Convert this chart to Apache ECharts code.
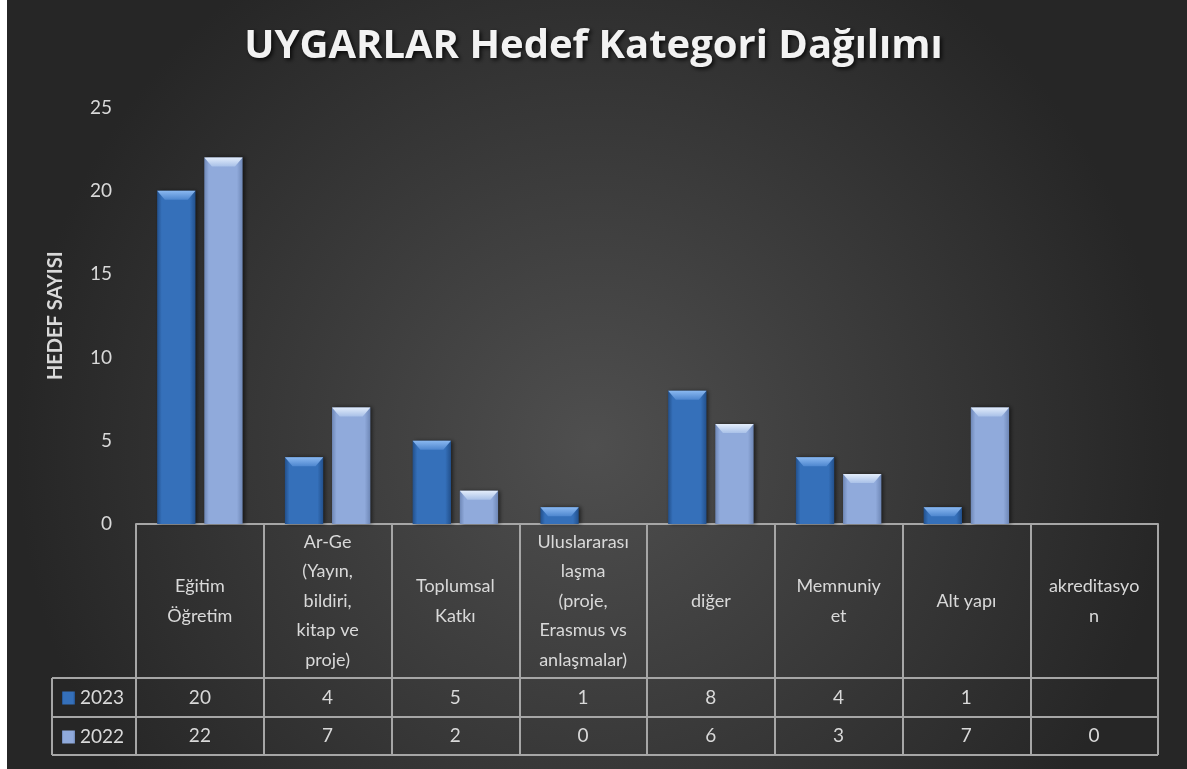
<!DOCTYPE html>
<html>
<head>
<meta charset="utf-8">
<script src="https://cdn.jsdelivr.net/npm/echarts@6/dist/echarts.min.js"></script>
<style>
html,body{margin:0;padding:0;background:#262626;overflow:hidden;}
#main{width:1187px;height:769px;}
</style>
</head>
<body>
<div id="main"></div>
<script>
const titleText = 'UYGARLAR Hedef Kategori Dağılımı';
const yAxisName = 'HEDEF SAYISI';
const categories = [
  'Eğitim\nÖğretim',
  'Ar-Ge\n(Yayın,\nbildiri,\nkitap ve\nproje)',
  'Toplumsal\nKatkı',
  'Uluslararası\nlaşma\n(proje,\nErasmus vs\nanlaşmalar)',
  'diğer',
  'Memnuniy\net',
  'Alt yapı',
  'akreditasyo\nn'
];
const seriesNames = ['2023', '2022'];
const values2023 = [20, 4, 5, 1, 8, 4, 1, null];
const values2022 = [22, 7, 2, 0, 6, 3, 7, 0];
const yTicks = [0, 5, 10, 15, 20, 25];

const FONT = 'Lato';
const TXT = '#d9d9d9';
const LINE = '#a6a6a6';

const chart = echarts.init(document.getElementById('main'));

const gridLeft = 136, gridRight = 1158, gridTop = 107.5, gridBottom = 524;
const row1 = 678, row2 = 717, tableBottom = 755, legendLeft = 52;

function barGrad(edge, mid) {
  return new echarts.graphic.LinearGradient(0, 0, 1, 0, [
    {offset: 0, color: edge}, {offset: 0.12, color: mid},
    {offset: 0.85, color: mid}, {offset: 1, color: edge}
  ]);
}
function capGrad(top, bottom) {
  return new echarts.graphic.LinearGradient(0, 0, 0, 1, [
    {offset: 0, color: top}, {offset: 1, color: bottom}
  ]);
}
const capPath = 'path://M0,0 L40,0 L32,9 L8,9 Z';
const posOnly = arr => arr.map(v => (v && v > 0) ? v : null);

const option = {
  backgroundColor: new echarts.graphic.RadialGradient(0.5, 0.58, 0.75, [
    {offset: 0, color: '#4f4f4f'}, {offset: 1, color: '#262626'}
  ]),
  animation: false,
  title: {
    text: titleText,
    left: 'center',
    top: 22,
    textStyle: {
      fontFamily: 'Open Sans', fontWeight: 'bold', fontSize: 40, color: '#f2f2f2',
      textShadowColor: 'rgba(0,0,0,0.8)', textShadowBlur: 4, textShadowOffsetX: 2, textShadowOffsetY: 2
    }
  },
  legend: {
    data: seriesNames,
    orient: 'vertical',
    left: 62,
    top: 688,
    padding: 0,
    itemWidth: 13,
    itemHeight: 13,
    itemGap: 19,
    icon: 'rect',
    textStyle: {fontFamily: FONT, fontSize: 19, color: TXT, lineHeight: 20}
  },
  grid: {left: gridLeft, right: 1187 - gridRight, top: gridTop, bottom: 769 - gridBottom, containLabel: false},
  xAxis: [
    {
      type: 'category', data: categories, position: 'bottom',
      axisLine: {show: true, lineStyle: {color: LINE, width: 2}},
      axisTick: {show: true, interval: 0, length: tableBottom - gridBottom, lineStyle: {color: LINE, width: 2}},
      axisLabel: {interval: 0, margin: (row1 - gridBottom) / 2, verticalAlign: 'middle',
        fontFamily: FONT, fontSize: 18, lineHeight: 29.5, color: TXT, align: 'center'}
    },
    {
      type: 'category', data: categories, position: 'bottom', offset: row1 - gridBottom,
      axisLine: {show: true, lineStyle: {color: LINE, width: 2}},
      axisTick: {show: false},
      axisLabel: {interval: 0, margin: (row2 - row1) / 2, verticalAlign: 'middle',
        fontFamily: FONT, fontSize: 19, color: TXT,
        formatter: (v, i) => values2023[i] == null ? '' : String(values2023[i])}
    },
    {
      type: 'category', data: categories, position: 'bottom', offset: row2 - gridBottom,
      axisLine: {show: true, lineStyle: {color: LINE, width: 2}},
      axisTick: {show: false},
      axisLabel: {interval: 0, margin: (tableBottom - row2) / 2, verticalAlign: 'middle',
        fontFamily: FONT, fontSize: 19, color: TXT,
        formatter: (v, i) => values2022[i] == null ? '' : String(values2022[i])}
    }
  ],
  yAxis: {
    type: 'value', min: yTicks[0], max: yTicks[yTicks.length - 1], interval: 5,
    name: yAxisName, nameLocation: 'middle', nameGap: 70,
    nameTextStyle: {fontFamily: FONT, fontWeight: 'bold', fontSize: 20, color: TXT},
    axisLine: {show: false}, axisTick: {show: false}, splitLine: {show: false},
    axisLabel: {fontFamily: FONT, fontSize: 19, color: TXT, margin: 24}
  },
  series: [
    {
      name: seriesNames[0], type: 'bar', data: values2023, barWidth: '30%', barGap: '23%',
      itemStyle: {color: barGrad('#22508c', '#3570ba'), shadowColor: 'rgba(0,0,0,0.55)', shadowBlur: 4, shadowOffsetX: 2, shadowOffsetY: 0}
    },
    {
      name: seriesNames[1], type: 'bar', data: values2022, barWidth: '30%', barGap: '23%',
      itemStyle: {color: barGrad('#6e87b6', '#90aadb'), shadowColor: 'rgba(0,0,0,0.55)', shadowBlur: 4, shadowOffsetX: 2, shadowOffsetY: 0}
    },
    {
      name: seriesNames[0] + ' cap', type: 'pictorialBar', data: posOnly(values2023), barWidth: '30%', barGap: '23%',
      symbol: capPath, symbolSize: ['100%', 9], symbolPosition: 'end', symbolRepeat: false,
      itemStyle: {color: capGrad('#8ab8f0', '#4d86cf')}, z: 5
    },
    {
      name: seriesNames[1] + ' cap', type: 'pictorialBar', data: posOnly(values2022), barWidth: '30%', barGap: '23%',
      symbol: capPath, symbolSize: ['100%', 9], symbolPosition: 'end', symbolRepeat: false,
      itemStyle: {color: capGrad('#e3edfb', '#a9c1e8')}, z: 5
    }
  ],
  graphic: [
    {type: 'rect', left: 0, top: 0, shape: {width: 7, height: 769}, style: {fill: '#ffffff'}, z: 100},
    {type: 'line', shape: {x1: legendLeft, y1: row1, x2: gridLeft, y2: row1}, style: {stroke: LINE, lineWidth: 2}},
    {type: 'line', shape: {x1: legendLeft, y1: row2, x2: gridLeft, y2: row2}, style: {stroke: LINE, lineWidth: 2}},
    {type: 'line', shape: {x1: legendLeft, y1: tableBottom, x2: gridRight, y2: tableBottom}, style: {stroke: LINE, lineWidth: 2}},
    {type: 'line', shape: {x1: legendLeft, y1: row1, x2: legendLeft, y2: tableBottom}, style: {stroke: LINE, lineWidth: 2}}
  ]
};
chart.setOption(option);
</script>
</body>
</html>
